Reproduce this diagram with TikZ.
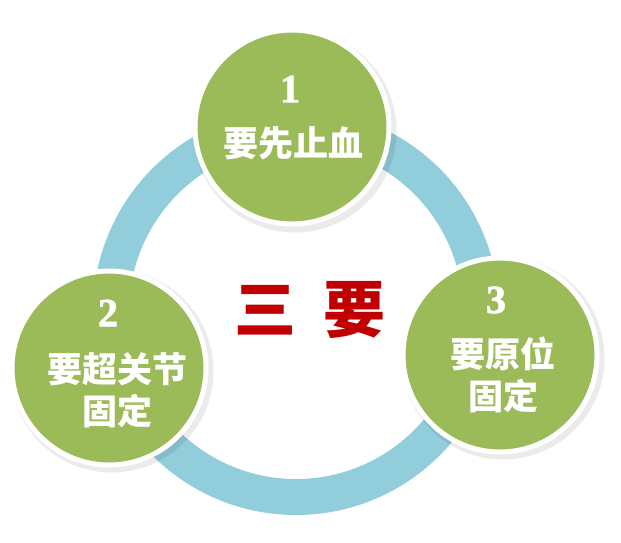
\documentclass[tikz,border=0pt]{standalone}
\usepackage{fontspec}
\setmainfont{Liberation Serif}
\newfontfamily\cjk{Noto Sans CJK SC}
\newfontfamily\digitfont{Liberation Serif}[FakeBold=1.6]
\definecolor{ringblue}{HTML}{92CDDC}
\definecolor{leafgreen}{HTML}{9BBB59}
\definecolor{titlered}{HTML}{C00000}

\begin{document}
\begin{tikzpicture}[x=1pt, y=-1pt,
  stage/.style={circle, minimum size=194pt, inner sep=0pt, fill=leafgreen, draw=white, line width=5pt},
  halo/.style={circle, minimum size=203pt, inner sep=0pt, fill=black, opacity=0.08},
  num/.style={text=white, inner sep=0pt, font=\fontsize{40}{40}\digitfont\bfseries},
  word/.style={text=white, inner sep=0pt, align=center, font=\fontsize{35}{42}\selectfont\cjk\bfseries}]
\useasboundingbox (0,0) rectangle (621,542);
% the ring that joins the three steps
\draw[ringblue, line width=36pt] (296,312) circle (185pt);
% soft shadows under the three discs
\node[halo] (h1) at (295,131) {};
\node[halo] (h2) at (112,371) {};
\node[halo] (h3) at (503,358) {};
% the three discs
\node[stage] (s1) at (292,127) {};
\node[stage] (s2) at (109,368) {};
\node[stage] (s3) at (500,355) {};
% step 1
\node[num] (n1) at (290,89) {1};
\node[word] (t1) at (293,143) {要先止血};
% step 2
\node[num] (n2) at (108,313) {2};
\node[word] (t2) at (117,390) {要超关节\\固定};
% step 3
\node[num] (n3) at (496,300) {3};
\node[word] (t3) at (503,375) {要原位\\固定};
% the title in the middle
\node[text=titlered, font=\fontsize{62}{62}\selectfont\cjk\bfseries] (title) at (310,310) {三\hspace{28pt}要};
\end{tikzpicture}
\end{document}
